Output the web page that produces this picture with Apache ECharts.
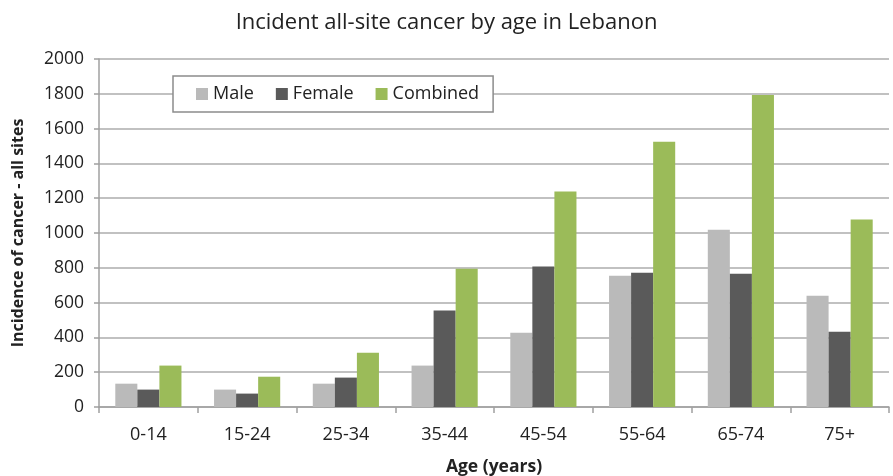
<!DOCTYPE html>
<html>
<head>
<meta charset="utf-8">
<script src="https://cdn.jsdelivr.net/npm/echarts@6/dist/echarts.min.js"></script>
<style>
  html, body { margin: 0; padding: 0; background: #fff; }
  #chart { width: 893px; height: 476px; }
</style>
</head>
<body>
<div id="chart"></div>
<script>
// age groups on the x axis
const ageGroups = ['0-14', '15-24', '25-34', '35-44', '45-54', '55-64', '65-74', '75+']
// incidence
const maleCases = [134, 100, 134, 238, 427, 755, 1019, 640]
const femaleCases = [100, 77, 169, 554, 807, 772, 766, 433]
const combinedCases = [238, 174, 312, 795, 1238, 1525, 1793, 1077]

const chart = echarts.init(document.getElementById('chart'))
const font = '"Open Sans", "Noto Sans", sans-serif'

const option = {
  animation: false,
  title: {
    text: 'Incident all-site cancer by age in Lebanon',
    left: 'center',
    top: 7,
    textStyle: { fontFamily: font, fontSize: 22, fontWeight: 'normal', color: '#222' }
  },
  legend: {
    left: 173,
    top: 76,
    padding: [9, 14, 9, 23],
    itemGap: 22,
    itemWidth: 12,
    itemHeight: 12,
    icon: 'rect',
    backgroundColor: '#fff',
    borderColor: '#8c8c8c',
    borderWidth: 1.5,
    textStyle: { fontFamily: font, fontSize: 18, color: '#222' },
    data: ['Male', 'Female', 'Combined']
  },
  // keep the plot box where it is, even though the axis name sits near the bottom edge
  grid: { left: 99, right: 4, top: 59, bottom: 69, outerBoundsMode: 'none' },
  xAxis: {
    type: 'category',
    data: ageGroups,
    name: 'Age (years)',
    nameLocation: 'middle',
    nameGap: 51,
    nameTextStyle: { fontFamily: font, fontSize: 17.5, fontWeight: 'bold', color: '#222' },
    axisLine: { lineStyle: { color: '#a0a0a0', width: 1.5 } },
    axisTick: { show: true, length: 6, lineStyle: { color: '#a0a0a0', width: 1.5 } },
    axisLabel: { fontFamily: font, fontSize: 18, color: '#222', margin: 19 }
  },
  yAxis: {
    type: 'value',
    min: 0,
    max: 2000,
    interval: 200,
    name: 'Incidence of cancer - all sites',
    nameLocation: 'middle',
    nameGap: 73,
    nameTextStyle: { fontFamily: font, fontSize: 16, fontWeight: 'bold', color: '#222' },
    axisLine: { show: true, lineStyle: { color: '#a0a0a0', width: 1.5 } },
    axisTick: { show: true, length: 5, lineStyle: { color: '#a0a0a0', width: 1.5 } },
    axisLabel: { fontFamily: font, fontSize: 17.5, color: '#222', margin: 15, formatter: v => String(v) },
    splitLine: { lineStyle: { color: '#acacac', width: 1.5 } }
  },
  series: [
    { name: 'Male', type: 'bar', data: maleCases, itemStyle: { color: '#bababa' }, barGap: 0, barCategoryGap: '33%' },
    { name: 'Female', type: 'bar', data: femaleCases, itemStyle: { color: '#5a5a5a' }, barGap: 0, barCategoryGap: '33%' },
    { name: 'Combined', type: 'bar', data: combinedCases, itemStyle: { color: '#9bbb59' }, barGap: 0, barCategoryGap: '33%' }
  ]
}

chart.setOption(option)
</script>
</body>
</html>
